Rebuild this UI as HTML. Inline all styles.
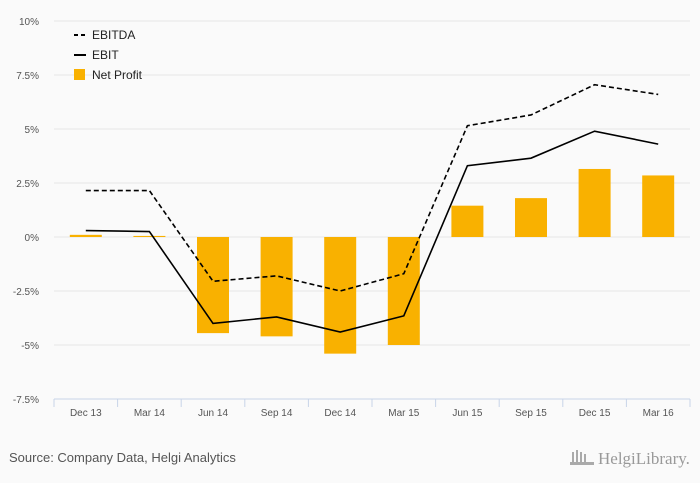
<!DOCTYPE html>
<html><head><meta charset="utf-8"><style>
body{margin:0;background:#fafafa;font-family:"Liberation Sans",sans-serif;}
svg{display:block}
</style></head><body>
<svg id="c" width="700" height="483" xmlns="http://www.w3.org/2000/svg">
<rect width="700" height="483" fill="#fafafa"/>
<g id="grid"></g><g id="bars"></g><g id="lines"></g><g id="axes"></g>
<g>
<line x1="74" y1="35" x2="86" y2="35" stroke="#000" stroke-width="2" stroke-dasharray="4,3"/>
<text x="92" y="39" font-size="12" fill="#222">EBITDA</text>
<line x1="74" y1="55" x2="86" y2="55" stroke="#000" stroke-width="2"/>
<text x="92" y="59" font-size="12" fill="#222">EBIT</text>
<rect x="74" y="69" width="11" height="11" fill="#f9b100"/>
<text x="92" y="79" font-size="12" fill="#222">Net Profit</text>
</g>
<text x="9" y="462" font-size="13" fill="#555">Source: Company Data, Helgi Analytics</text>
<text x="598" y="464" font-size="17" fill="#999" font-family="Liberation Serif,serif">HelgiLibrary.</text>
<g fill="#aaa"><rect x="572" y="452" width="2" height="12"/><rect x="576" y="450" width="2" height="14"/><rect x="580" y="452" width="2" height="12"/><rect x="584" y="454" width="2" height="10"/><rect x="570" y="462" width="24" height="3"/></g>
</svg>
<script>
const categories=["Dec 13","Mar 14","Jun 14","Sep 14","Dec 14","Mar 15","Jun 15","Sep 15","Dec 15","Mar 16"];
const ebitda=[2.15,2.15,-2.05,-1.8,-2.5,-1.7,5.15,5.65,7.05,6.6];
const ebit=[0.3,0.25,-4.0,-3.7,-4.4,-3.65,3.3,3.65,4.9,4.3];
const netProfit=[0.1,0.05,-4.45,-4.6,-5.4,-5.0,1.45,1.8,3.15,2.85];
const yTicks=[10,7.5,5,2.5,0,-2.5,-5,-7.5];
const yTickLabels=["10%","7.5%","5%","2.5%","0%","-2.5%","-5%","-7.5%"];
const NS="http://www.w3.org/2000/svg";
const x0=54,x1=690,yTop=21,yBot=399,yMax=10,yMin=-7.5;
const step=(x1-x0)/categories.length;
const X=i=>x0+step*(i+0.5);
const Y=v=>yTop+(yMax-v)/(yMax-yMin)*(yBot-yTop);
function mk(tag,attrs,parent){const e=document.createElementNS(NS,tag);for(const k in attrs)e.setAttribute(k,attrs[k]);document.getElementById(parent).appendChild(e);return e;}
yTicks.forEach((t,i)=>{
  if(t!==yMin){const g=mk('line',{x1:x0,x2:x1,y1:Y(t),y2:Y(t),stroke:'#e6e6e6','stroke-width':1},'grid');
  
  }
  const l=mk('text',{x:39,y:Y(t)+4,'font-size':10,fill:'#555','text-anchor':'end'},'axes');l.textContent=yTickLabels[i];
  
  
});
netProfit.forEach((v,i)=>{
  const b=mk('rect',{x:X(i)-16,y:Math.min(Y(v),Y(0)),width:32,height:Math.abs(Y(v)-Y(0)),fill:'#f9b100'},'bars');
  
  
});
const pts=a=>a.map((v,i)=>X(i)+','+Y(v)).join(' ');
const l1=mk('polyline',{points:pts(ebitda),fill:'none',stroke:'#000','stroke-width':1.6,'stroke-dasharray':'5,3'},'lines');


const l2=mk('polyline',{points:pts(ebit),fill:'none',stroke:'#000','stroke-width':1.6},'lines');


const ax=mk('line',{x1:x0,x2:x1,y1:yBot,y2:yBot,stroke:'#c8d4e8'},'axes');


for(let i=0;i<=categories.length;i++){const t=mk('line',{x1:x0+step*i,x2:x0+step*i,y1:yBot,y2:yBot+8,stroke:'#c8d4e8'},'axes');
  
  }
categories.forEach((c,i)=>{const t=mk('text',{x:X(i),y:416,'font-size':10,fill:'#555','text-anchor':'middle'},'axes');t.textContent=c;
  
  });
</script>
</body></html>
